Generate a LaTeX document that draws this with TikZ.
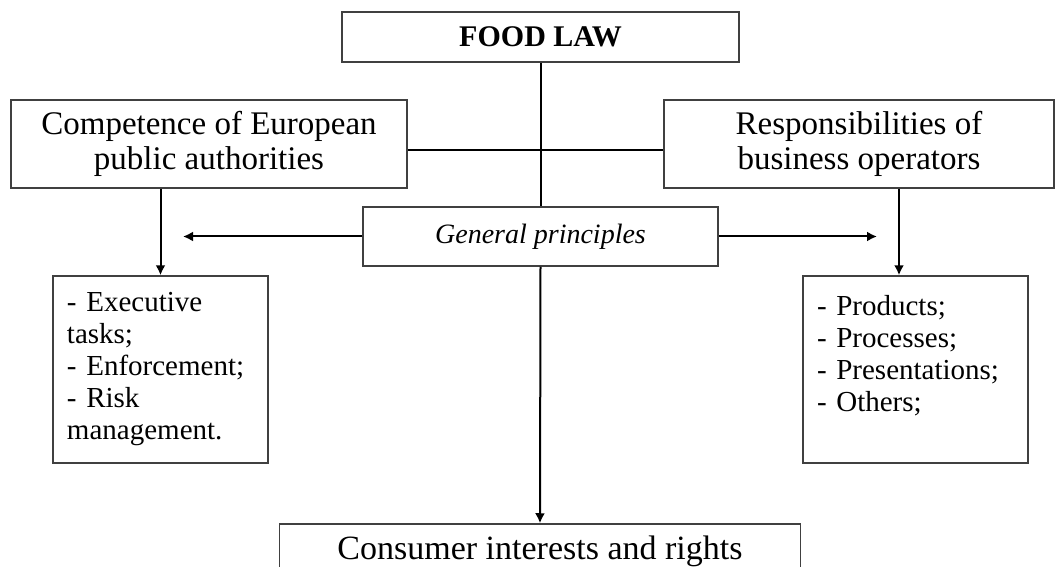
\documentclass[tikz,border=0pt]{standalone}
\usepackage{fontspec}
\setmainfont{Liberation Serif}
\usetikzlibrary{arrows.meta}

\begin{document}
\begin{tikzpicture}[x=0.5pt,y=-0.5pt,
  box/.style={draw=black!75,line width=0.75pt,inner sep=0pt,align=center,font=\fontsize{16.5}{17.5}\selectfont},
  listbox/.style={draw=black!75,line width=0.75pt,inner xsep=7pt,inner ysep=0pt,align=left,
    minimum height=93.5pt,font=\fontsize{14.5}{16}\selectfont},
  link/.style={line width=1pt},
  arrow/.style={link,-{Latex[length=5pt,width=5pt]}}]
  \useasboundingbox (0,0) rectangle (1056,567);
  \clip (0,0) rectangle (1056,567);
  % boxes
  \node[box,minimum width=198.5pt,minimum height=25pt,font=\bfseries\fontsize{15}{17}\selectfont] (foodlaw) at (540.5,37) {FOOD LAW};
  \node[box,minimum width=198pt,minimum height=44pt] (competence) at (209,144) {Competence of European\\public authorities};
  \node[box,minimum width=195pt,minimum height=44pt] (responsib) at (859,144) {Responsibilities of\\business operators};
  \node[box,minimum width=177.5pt,minimum height=29.5pt,font=\itshape\fontsize{14}{16}\selectfont] (general) at (540.5,236.5) {General principles};
  \node[listbox,text width=93.5pt] (tasks) at (160.5,369.5) {- Executive\\tasks;\\- Enforcement;\\- Risk\\management.};
  \node[listbox,text width=98.5pt] (areas) at (915.5,369.5) {- Products;\\- Processes;\\- Presentations;\\- Others;\\ \mbox{}};
  \node[box,minimum width=260.5pt,minimum height=27pt,font=\fontsize{17}{19}\selectfont] (consumer) at (540,551) {Consumer interests and rights};
  \coordinate (genL) at (183,236.5);
  \coordinate (genR) at (877,236.5);
  % connectors
  \draw[link] (foodlaw.south) -- (general.north);
  \draw[link] ([yshift=-3pt]competence.east) -- ([yshift=-3pt]responsib.west);
  \draw[arrow] (tasks.north |- competence.south) -- (tasks.north);
  \draw[arrow] ([xshift=-8.25pt]areas.north |- responsib.south) -- ([xshift=-8.25pt]areas.north);
  \draw[arrow] (general.west) -- (genL);
  \draw[arrow] (general.east) -- (genR);
  \draw[arrow] (general.south) -- (consumer.north);
\end{tikzpicture}
\end{document}
